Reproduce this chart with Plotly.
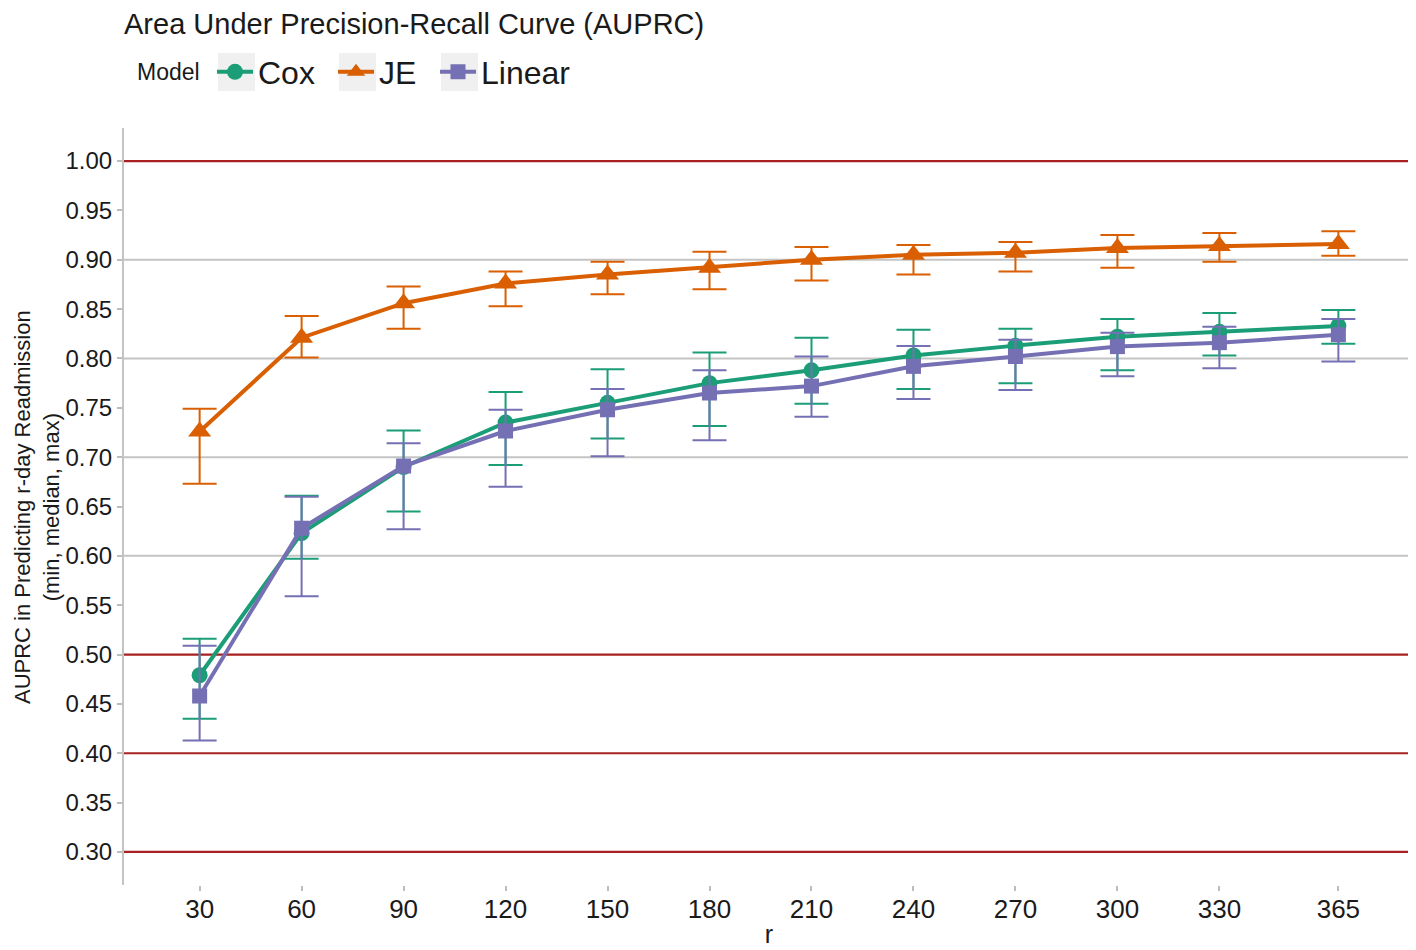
import plotly.graph_objects as go

# ---- data ----
r_days = [30, 60, 90, 120, 150, 180, 210, 240, 270, 300, 330, 365]
x_tick_labels = ["30", "60", "90", "120", "150", "180", "210", "240", "270", "300", "330", "365"]

cox_median = [0.479, 0.623, 0.690, 0.735, 0.755, 0.775, 0.788, 0.803, 0.813, 0.822, 0.827, 0.833]
cox_min = [0.435, 0.597, 0.645, 0.692, 0.719, 0.7315, 0.754, 0.769, 0.775, 0.788, 0.803, 0.815]
cox_max = [0.516, 0.661, 0.727, 0.766, 0.789, 0.806, 0.821, 0.829, 0.830, 0.840, 0.846, 0.849]

je_median = [0.726, 0.821, 0.856, 0.876, 0.885, 0.892, 0.900, 0.905, 0.907, 0.912, 0.914, 0.916]
je_min = [0.673, 0.801, 0.830, 0.853, 0.865, 0.870, 0.879, 0.885, 0.888, 0.892, 0.898, 0.904]
je_max = [0.749, 0.843, 0.873, 0.888, 0.898, 0.908, 0.913, 0.915, 0.918, 0.925, 0.927, 0.929]

lin_median = [0.458, 0.628, 0.691, 0.7265, 0.748, 0.765, 0.772, 0.792, 0.802, 0.812, 0.816, 0.824]
lin_min = [0.413, 0.559, 0.627, 0.670, 0.701, 0.717, 0.741, 0.759, 0.768, 0.782, 0.790, 0.797]
lin_max = [0.509, 0.660, 0.714, 0.748, 0.769, 0.788, 0.802, 0.8125, 0.819, 0.826, 0.832, 0.840]

y_ticks = [0.30, 0.35, 0.40, 0.45, 0.50, 0.55, 0.60, 0.65, 0.70, 0.75, 0.80, 0.85, 0.90, 0.95, 1.00]
grid_lines = [0.60, 0.70, 0.80, 0.90]
red_lines = [0.30, 0.40, 0.50, 1.00]

FONT = "Liberation Sans, Arial, Helvetica, sans-serif"
TXT = "#1A1A1A"

# The page body has an 8 px margin: figure is sized/placed to compensate.
W, H = 1408, 942
ML, MR, MT, MB = 116, 2, 120, 65
PW, PH = W - ML - MR, H - MT - MB


def px_paper_x(page_x):
    return (page_x - 8 - ML) / PW


def px_paper_y(page_y):
    return (H - MB - (page_y - 8)) / PH


# name, median, min, max, colour, symbol, marker size, legend entry width
series = [
    ("Cox", cox_median, cox_min, cox_max, "#1B9E77", "circle", 16, 70),
    ("JE", je_median, je_min, je_max, "#D95F02", "triangle-up", 20, 51),
    ("Linear", lin_median, lin_min, lin_max, "#7570B3", "square", 15, 100),
]

fig = go.Figure()
for name, med, lo, hi, color, sym, size, lw in series:
    fig.add_trace(go.Scatter(
        x=r_days, y=med, name=name, mode="lines+markers",
        line=dict(color=color, width=4),
        marker=dict(color=color, symbol=sym, size=size),
        legendwidth=lw,
        error_y=dict(type="data", symmetric=False,
                     array=[h - m for h, m in zip(hi, med)],
                     arrayminus=[m - l for m, l in zip(med, lo)],
                     color=color, thickness=2, width=17),
    ))

shapes = []
for g in grid_lines:
    shapes.append(dict(type="line", xref="paper", yref="y", x0=0, x1=1, y0=g, y1=g,
                       line=dict(color="#C4C4C4", width=2), layer="below"))
for rl in red_lines:
    shapes.append(dict(type="line", xref="paper", yref="y", x0=0, x1=1, y0=rl, y1=rl,
                       line=dict(color="#A8201F", width=2.2), layer="below"))
# grey legend key backgrounds (page pixel boxes)
for xl in [218, 339, 441]:
    shapes.append(dict(type="rect", xref="paper", yref="paper",
                       x0=px_paper_x(xl), x1=px_paper_x(xl + 37),
                       y0=px_paper_y(91), y1=px_paper_y(53),
                       fillcolor="#F0F0F0", line=dict(width=0), layer="below"))

fig.update_layout(
    width=W, height=H,
    margin=dict(l=ML, r=MR, t=MT, b=MB, autoexpand=False),
    paper_bgcolor="white", plot_bgcolor="white",
    font=dict(family=FONT, color=TXT),
    title=dict(text="Area Under Precision-Recall Curve (AUPRC)",
               x=(124 - 8) / W, xref="container", xanchor="left",
               y=1 - 15.5 / H, yref="container", yanchor="middle",
               font=dict(size=29, color=TXT, family=FONT)),
    legend=dict(orientation="h", x=(212 - 8) / W, xref="container", xanchor="left",
                y=1 - (72 - 8) / H, yref="container", yanchor="middle",
                itemwidth=36,
                font=dict(size=32, family=FONT, color=TXT),
                bgcolor="rgba(0,0,0,0)"),
    annotations=[
        dict(text="Model", xref="paper", yref="paper",
             x=px_paper_x(135), y=px_paper_y(72), xanchor="left", yanchor="middle",
             showarrow=False, font=dict(size=23, family=FONT, color=TXT)),
        dict(text="AUPRC in Predicting r-day Readmission<br>(min, median, max)",
             xref="paper", yref="paper", textangle=-90,
             x=px_paper_x(37), y=px_paper_y(507), xanchor="center", yanchor="middle",
             showarrow=False, font=dict(size=22, family=FONT, color=TXT)),
    ],
    xaxis=dict(range=[7.75, 387.25], tickmode="array", tickvals=r_days, ticktext=x_tick_labels,
               showgrid=False, zeroline=False, showline=False, automargin=False,
               ticks="outside", ticklen=5, tickwidth=1.5, tickcolor="#BDBDBD",
               tickfont=dict(size=26, family=FONT, color=TXT),
               ticklabelstandoff=-4,
               title=dict(text="r", font=dict(size=25, family=FONT), standoff=2)),
    yaxis=dict(range=[0.2665, 1.0335], tickmode="array", tickvals=y_ticks,
               ticktext=[f"{v:.2f}" for v in y_ticks], automargin=False,
               showgrid=False, zeroline=False, showline=True, linecolor="#C4C4C4", linewidth=2,
               ticks="outside", ticklen=5, tickwidth=1.5, tickcolor="#BDBDBD",
               tickfont=dict(size=24, family=FONT, color=TXT)),
    shapes=shapes,
)

fig.write_html("out.html")
